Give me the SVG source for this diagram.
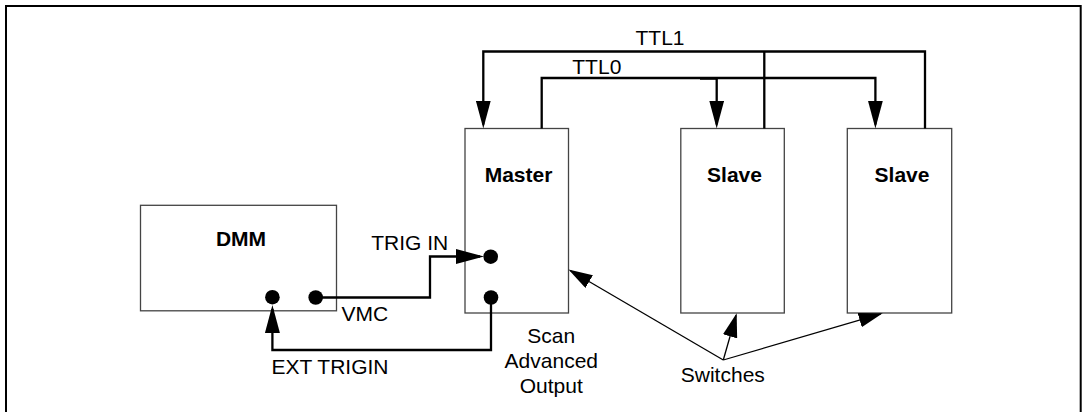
<svg xmlns="http://www.w3.org/2000/svg" width="1086" height="412" viewBox="0 0 1086 412">
<style>
text{font-family:"Liberation Sans",Arial,sans-serif;font-size:21px;fill:#000}
.b{font-weight:bold}
.m{text-anchor:middle}
.box{fill:#fff;stroke:#444;stroke-width:1.3}
.w{fill:none;stroke:#000;stroke-width:2.3}
.t{fill:none;stroke:#000;stroke-width:1.3}
.dot{fill:#000}
</style>
<defs>
<marker id="ah" markerUnits="userSpaceOnUse" markerWidth="28" markerHeight="15" refX="24" refY="7.5" orient="auto"><path d="M0,0 L28,7.5 L0,15 z" fill="#000"/></marker>
<marker id="ahs" markerUnits="userSpaceOnUse" markerWidth="24" markerHeight="15" refX="22" refY="7.4" orient="auto"><path d="M0,0 L24,7.4 L0,14.8 z" fill="#000"/></marker>
</defs>
<rect width="1086" height="412" fill="#fff"/>
<path d="M6,420 V6 H1080.7 V420" fill="none" stroke="#000" stroke-width="2"/>
<g id="master"><rect class="box" x="465" y="128.5" width="103.5" height="184.5"/><text class="b m" x="518.5" y="181.7">Master</text></g>
<g id="slave1"><rect class="box" x="680.8" y="128.5" width="103.5" height="184.5"/><text class="b m" x="734.5" y="181.7">Slave</text></g>
<g id="slave2"><rect class="box" x="847.3" y="128.5" width="104.4" height="184.5"/><text class="b m" x="902" y="181.7">Slave</text></g>
<g id="dmm"><rect class="box" x="140.5" y="205.3" width="196" height="105.5"/><text class="b m" x="241" y="246">DMM</text></g>
<g id="connectors">
<path class="w" d="M764.3,128.5 V51.5 M925,128.5 V51.5 H483.3 V124.5" marker-end="url(#ah)"/>
<path class="w" d="M541.7,128.5 V78 H875.4 V124.5" marker-end="url(#ah)"/>
<path class="w" d="M700,78.7 H716.7 V124.5" marker-end="url(#ah)"/>
<path class="w" d="M315.7,297.5 H430 V256.5 H480" marker-end="url(#ah)"/>
<path class="w" d="M491,297.5 V350 H272.4 V309" marker-end="url(#ah)"/>
<circle class="dot" cx="490.7" cy="256.7" r="7.3"/>
<circle class="dot" cx="491" cy="297.5" r="7.3"/>
<circle class="dot" cx="315.7" cy="297.5" r="7.3"/>
<circle class="dot" cx="272.4" cy="297.2" r="7.3"/>
<path class="t" d="M723.3,360 L570.2,270.5" marker-end="url(#ahs)"/>
<path class="t" d="M723.3,360 L736.1,315.2" marker-end="url(#ahs)"/>
<path class="t" d="M723.3,360 L880.8,313.9" marker-end="url(#ahs)"/>
</g>
<g id="labels">
<text x="635.5" y="45">TTL1</text>
<text x="572.3" y="74">TTL0</text>
<text x="371.2" y="250">TRIG IN</text>
<text x="341.5" y="320.7">VMC</text>
<text x="271.4" y="373.7">EXT TRIGIN</text>
<text class="m" x="551.3" y="342.7">Scan</text>
<text class="m" x="551.3" y="368.3">Advanced</text>
<text class="m" x="551.3" y="392.5">Output</text>
<text class="m" x="722.8" y="381.7">Switches</text>
</g>
</svg>
